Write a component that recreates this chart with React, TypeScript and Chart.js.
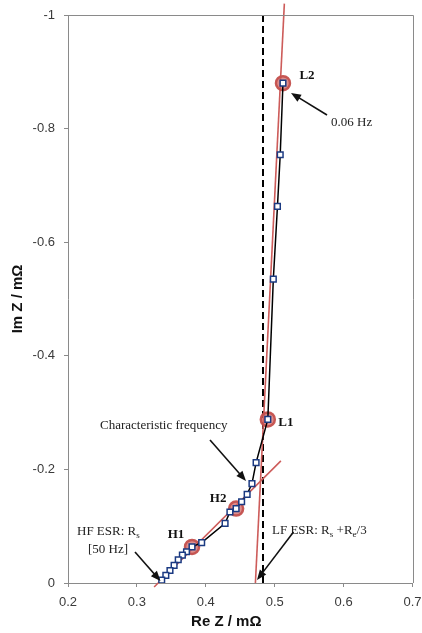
import React, { useEffect, useRef } from "react";
import { Chart, registerables } from "chart.js";
Chart.register(...registerables);

// Nyquist data (Re Z, Im Z in mΩ), from low frequency (L2) to 50 Hz
const reZ = [0.512, 0.508, 0.504, 0.498, 0.490, 0.473, 0.467, 0.460, 0.452, 0.444, 0.435, 0.428, 0.394, 0.380, 0.372, 0.366, 0.360, 0.354, 0.348, 0.342, 0.336];
const imZ = [-0.880, -0.754, -0.663, -0.535, -0.288, -0.212, -0.175, -0.156, -0.143, -0.131, -0.125, -0.105, -0.071, -0.0635, -0.055, -0.049, -0.041, -0.031, -0.022, -0.0135, -0.005];

// highlighted points
const markerLabels = ["H1", "H2", "L1", "L2"];
const markerRe = [0.380, 0.444, 0.490, 0.512];
const markerIm = [-0.0635, -0.131, -0.288, -0.880];

// fitted lines
const hfFitRe = [0.325, 0.509];
const hfFitIm = [0.007, -0.215];
const lfFitRe = [0.472, 0.514];
const lfFitIm = [0, -1.02];
const lfEsrRe = [0.483, 0.483];
const lfEsrIm = [-1, 0];

// ticks
const xTicks = [0.2, 0.3, 0.4, 0.5, 0.6, 0.7];
const yTicks = [-1, -0.8, -0.6, -0.4, -0.2, 0];

const pts = (xs: number[], ys: number[]) => xs.map((v, i) => ({ x: v, y: ys[i] }));

const SERIF = "'Liberation Serif', 'Times New Roman', serif";
const SANS = "'Liberation Sans', Arial, sans-serif";

function arrow(ctx: CanvasRenderingContext2D, x1: number, y1: number, x2: number, y2: number) {
  const ang = Math.atan2(y2 - y1, x2 - x1);
  const hl = 10, hw = 4;
  ctx.beginPath();
  ctx.moveTo(x1, y1);
  ctx.lineTo(x2 - Math.cos(ang) * hl * 0.8, y2 - Math.sin(ang) * hl * 0.8);
  ctx.stroke();
  ctx.beginPath();
  ctx.moveTo(x2, y2);
  ctx.lineTo(x2 - Math.cos(ang) * hl - Math.sin(ang) * hw, y2 - Math.sin(ang) * hl + Math.cos(ang) * hw);
  ctx.lineTo(x2 - Math.cos(ang) * hl + Math.sin(ang) * hw, y2 - Math.sin(ang) * hl - Math.cos(ang) * hw);
  ctx.closePath();
  ctx.fill();
}

// draws text segments; segment with sub=true drawn as subscript
function richText(ctx: CanvasRenderingContext2D, x: number, y: number, segs: { t: string; sub?: boolean }[]) {
  let cx = x;
  for (const s of segs) {
    ctx.font = s.sub ? `9px ${SERIF}` : `13px ${SERIF}`;
    ctx.fillText(s.t, cx, s.sub ? y + 4 : y);
    cx += ctx.measureText(s.t).width;
  }
}

const annotPlugin = {
  id: "annot",
  afterDraw(chart: any) {
    const { ctx, chartArea: a, scales } = chart;
    const xs = scales.x, ys = scales.y;
    ctx.save();
    // frame top/right
    ctx.strokeStyle = "#8a8a8a";
    ctx.lineWidth = 1;
    ctx.beginPath();
    ctx.moveTo(a.left, Math.round(a.top) + 0.5);
    ctx.lineTo(Math.round(a.right) + 0.5, Math.round(a.top) + 0.5);
    ctx.lineTo(Math.round(a.right) + 0.5, a.bottom);
    ctx.stroke();

    // marker labels
    const offs = [[-16, -12], [-18, -10], [18, 3], [24, -8]];
    ctx.fillStyle = "#111";
    ctx.font = `bold 13px ${SERIF}`;
    ctx.textAlign = "center";
    ctx.textBaseline = "middle";
    markerLabels.forEach((lab, i) => {
      const px = xs.getPixelForValue(markerRe[i]);
      const py = ys.getPixelForValue(markerIm[i]);
      ctx.fillText(lab, px + offs[i][0], py + offs[i][1]);
    });

    // texts
    ctx.textAlign = "left";
    ctx.font = `13px ${SERIF}`;
    ctx.fillStyle = "#222";
    ctx.fillText("0.06 Hz", 331, 123);
    ctx.fillText("Characteristic frequency", 100, 426);
    richText(ctx, 77, 532, [{ t: "HF ESR: R" }, { t: "s", sub: true }]);
    ctx.font = `13px ${SERIF}`;
    ctx.fillText("[50 Hz]", 88, 550);
    richText(ctx, 272, 531, [{ t: "LF ESR: R" }, { t: "s", sub: true }, { t: " +R" }, { t: "e", sub: true }, { t: "/3" }]);

    // arrows
    ctx.strokeStyle = "#111";
    ctx.fillStyle = "#111";
    ctx.lineWidth = 1.6;
    arrow(ctx, 327, 115, 291, 93);
    arrow(ctx, 210, 440, 246, 481);
    arrow(ctx, 135, 552, 160.5, 581);
    arrow(ctx, 293.5, 532, 257, 580);

    // axis titles
    ctx.fillStyle = "#111";
    ctx.font = `bold 15px ${SANS}`;
    ctx.textAlign = "center";
    ctx.textBaseline = "middle";
    ctx.fillText("Re Z / m\u03A9", (a.left + a.right) / 2 - 14, 622);
    ctx.translate(18, (a.top + a.bottom) / 2);
    ctx.rotate(-Math.PI / 2);
    ctx.fillText("Im Z / m\u03A9", 0, 0);
    ctx.restore();
  },
};

export default function App() {
  const ref = useRef<HTMLCanvasElement>(null);
  useEffect(() => {
    document.body.style.margin = "0";
    const chart = new Chart(ref.current!, {
      type: "scatter",
      data: {
        datasets: [
          {
            data: pts(reZ, imZ),
            showLine: true,
            borderColor: "#000",
            borderWidth: 1.5,
            pointStyle: "rect",
            pointRadius: 4,
            pointBorderColor: "#1b3a82",
            pointBackgroundColor: "#ffffff",
            pointBorderWidth: 1.5,
            order: 0,
          } as any,
          {
            data: pts(markerRe, markerIm),
            showLine: false,
            pointRadius: 7,
            pointBackgroundColor: "rgba(208,100,98,0.72)",
            pointBorderColor: "rgba(196,80,77,0.95)",
            pointBorderWidth: 2.5,
            order: 1,
          },
          {
            data: pts(hfFitRe, hfFitIm),
            showLine: true,
            borderColor: "#cd5c5a",
            borderWidth: 1.6,
            pointRadius: 0,
            clip: false,
            order: 2,
          } as any,
          {
            data: pts(lfFitRe, lfFitIm),
            showLine: true,
            borderColor: "#cd5c5a",
            borderWidth: 1.6,
            pointRadius: 0,
            clip: false,
            order: 2,
          } as any,
          {
            data: pts(lfEsrRe, lfEsrIm),
            showLine: true,
            borderColor: "#000",
            borderWidth: 2,
            borderDash: [7, 4],
            pointRadius: 0,
            order: 3,
          } as any,
        ],
      },
      options: {
        responsive: false,
        animation: false,
        devicePixelRatio: 1,
        layout: { padding: { top: 15, right: 8, left: 0, bottom: 0 } },
        plugins: { legend: { display: false }, tooltip: { enabled: false } },
        scales: {
          x: {
            type: "linear",
            min: 0.2,
            max: 0.7,
            afterFit: (s: any) => { s.height = 50; s.paddingLeft = 0; s.paddingRight = 0; },
            afterBuildTicks: (s: any) => { s.ticks = xTicks.map((v) => ({ value: v })); },
            ticks: {
              font: { family: SANS, size: 13 },
              color: "#3a3a3a",
              padding: 8,
              callback: (v: any) => String(Number(v).toFixed(1)),
            },
            grid: { drawOnChartArea: false, drawTicks: true, tickLength: 4, color: "#8a8a8a" },
            border: { display: true, color: "#8a8a8a", width: 1 },
          },
          y: {
            type: "linear",
            min: -1,
            max: 0,
            reverse: true,
            afterFit: (s: any) => { s.width = 68; s.paddingTop = 0; s.paddingBottom = 0; },
            afterBuildTicks: (s: any) => { s.ticks = yTicks.map((v) => ({ value: v })); },
            ticks: {
              font: { family: SANS, size: 13 },
              color: "#3a3a3a",
              padding: 9,
              callback: (v: any) => {
                const n = Math.round(Number(v) * 10) / 10;
                return n === 0 ? "0" : String(n);
              },
            },
            grid: { drawOnChartArea: false, drawTicks: true, tickLength: 4, color: "#8a8a8a" },
            border: { display: true, color: "#8a8a8a", width: 1 },
          },
        },
      },
      plugins: [annotPlugin],
    } as any);
    return () => chart.destroy();
  }, []);
  return (
    <div style={{ position: "absolute", left: 0, top: 0, width: 422, height: 633, background: "#fff" }}>
      <canvas ref={ref} width={422} height={633} />
    </div>
  );
}
